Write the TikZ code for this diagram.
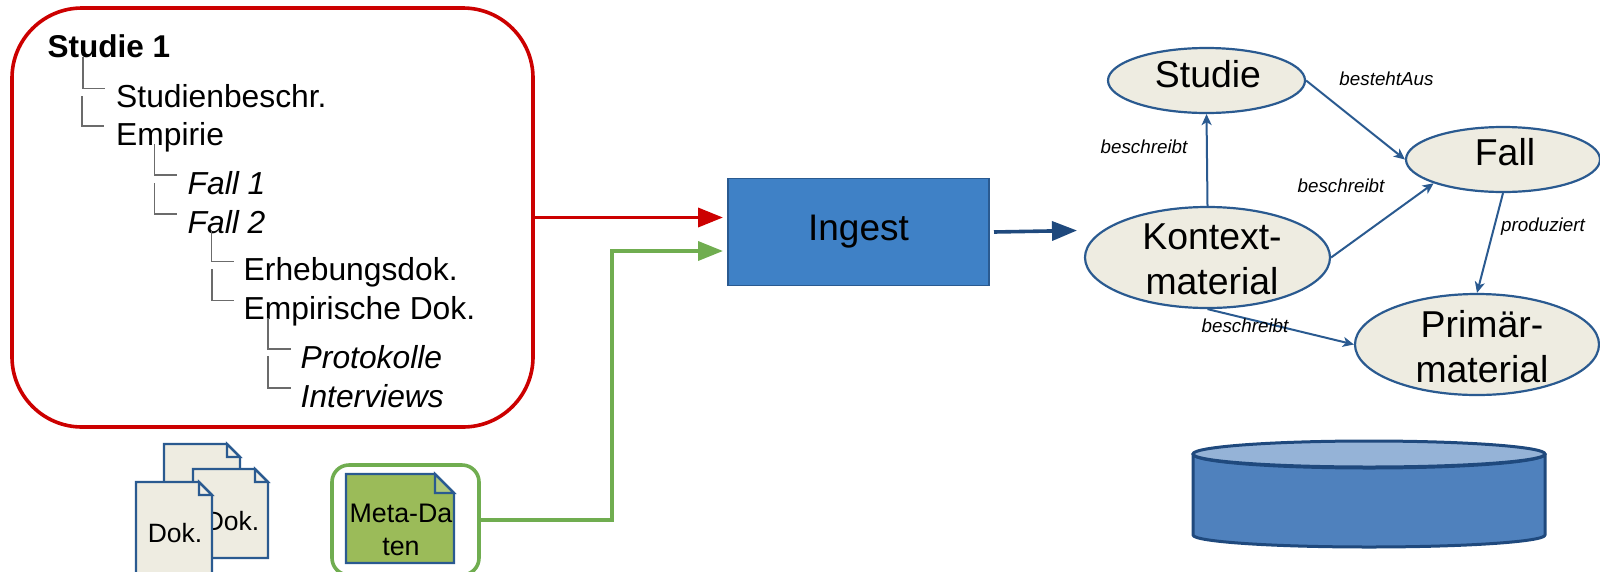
\documentclass[tikz,border=0pt]{standalone}
\usepackage{fontspec}
\setmainfont{Liberation Sans}
\usepackage{tikz}
\usetikzlibrary{arrows.meta,shapes.geometric}

\definecolor{rahmenrot}{HTML}{CC0000}
\definecolor{rahmengruen}{HTML}{70AD50}
\definecolor{blattgruen}{HTML}{9BBB59}
\definecolor{papier}{HTML}{EEECE1}
\definecolor{kante}{HTML}{2A5A90}
\definecolor{dunkelblau}{HTML}{1F497D}
\definecolor{ingestblau}{HTML}{3F81C6}
\definecolor{tonneblau}{HTML}{4F81BD}
\definecolor{tonnehell}{HTML}{95B3D7}

\tikzset{
	baumtext/.style={anchor=base west,inner sep=0pt,font=\fontsize{31.8}{36}\selectfont},
	baumkursiv/.style={baumtext,font=\fontsize{31.8}{36}\selectfont\itshape},
	baumlinie/.style={draw=black!58,line width=1.8pt},
	klasse/.style={ellipse,draw=kante,fill=papier,line width=2.2pt,inner sep=0pt},
	klassentext/.style={inner sep=0pt,align=center,font=\fontsize{37.4}{44.5}\selectfont},
	relation/.style={inner sep=0pt,font=\fontsize{18.8}{22}\selectfont\itshape},
	relpfeil/.style={draw=kante,line width=2pt,-{Stealth[length=11pt,width=10pt,inset=3pt]}},
	blatt/.style={draw=kante,line width=2.2pt,line join=miter},
	dicktip/.style={line width=3.6pt,-{Triangle[length=25pt,width=19pt]}},
}

% one sheet with a folded corner: x, y, width, height, fold, fill
\newcommand{\dokblatt}[6]{
	\draw[blatt,fill=#6] (#1,#2) -- ({#1+#3-#5},#2) -- ({#1+#3},{#2+#5}) -- ({#1+#3},{#2+#4}) -- (#1,{#2+#4}) -- cycle;
	\draw[blatt,fill=white,fill opacity=.2] ({#1+#3-#5},#2) -- ({#1+#3-#5},{#2+#5}) -- ({#1+#3},{#2+#5}) -- cycle;
}

\begin{document}
\begin{tikzpicture}
	\begin{scope}[x=1pt,y=-1pt]
		\useasboundingbox (0,0) rectangle (1600,571);
		\clip (0,0) rectangle (1600,571);

		\node[draw=rahmenrot,line width=3.6pt,rounded corners=70pt,minimum width=521pt,minimum height=419pt] (studienbox) at (272.5,217.5) {};

		\node[baumtext,font=\fontsize{31.5}{36}\selectfont\bfseries] (studie1) at (47.5,57.5) {Studie 1};
		\node[baumtext] (beschr) at (116,107.5) {Studienbeschr.};
		\node[baumtext] (empirie) at (116,145) {Empirie};
		\node[baumkursiv] (fall1) at (187.5,194) {Fall 1};
		\node[baumkursiv] (fall2) at (187.5,233) {Fall 2};
		\node[baumtext] (erhebung) at (243.5,280.5) {Erhebungsdok.};
		\node[baumtext] (empdok) at (243.5,319.5) {Empirische Dok.};
		\node[baumkursiv] (protokolle) at (300.5,368) {Protokolle};
		\node[baumkursiv] (interviews) at (300.5,407) {Interviews};

		\foreach \kind/\xpos/\ypos/\lang in {beschr/83/57/11,empirie/82/96/12,fall1/154.5/144/10.5,fall2/154.5/183/10.5,erhebung/211.5/230/10,empdok/212/269/10,protokolle/268/318/10,interviews/268/356/10}{
			\coordinate (von\kind) at (\xpos,\ypos);
			\draw[baumlinie] (von\kind) |- ([shift={(-\lang pt,19pt)}]\kind.base west);
		}

		\dokblatt{164}{444}{76}{89}{13}{papier}
		\dokblatt{193}{469}{75}{89}{13}{papier}
		\node[inner sep=0pt,font=\fontsize{26.5}{30}\selectfont] (dok2) at (232,521) {Dok.};
		\dokblatt{136}{482}{76}{92}{13}{papier}
		\node[inner sep=0pt,font=\fontsize{26.5}{30}\selectfont] (dok1) at (175,533) {Dok.};

		\node[draw=rahmengruen,line width=3.6pt,rounded corners=17pt,minimum width=147pt,minimum height=110pt] (metabox) at (405.5,520) {};
		\dokblatt{346}{474}{108}{89}{19}{blattgruen}
		\node[inner sep=0pt,align=center,font=\fontsize{26.8}{33}\selectfont] (metadaten) at (401,529.5) {Meta-Da\\ten};

		\node[draw=kante,fill=ingestblau,line width=1.8pt,minimum width=261pt,minimum height=107pt,font=\fontsize{37}{40}\selectfont] (ingest) at (858.5,232) {\raisebox{-6pt}{Ingest}};

		\coordinate (rotein) at (723,217.5);
		\coordinate (gruenknick) at (612,251);
		\coordinate (gruenein) at (723,251);
		\coordinate (blauvon) at (994,232);
		\coordinate (blaunach) at (1077,230.5);
		\draw[dicktip,draw=rahmenrot] (studienbox.east) -- (rotein);
		\draw[dicktip,draw=rahmengruen] (metabox.east) -| (gruenknick) -- (gruenein);
		\draw[dicktip,draw=dunkelblau] (blauvon) -- (blaunach);

		\node[klasse,minimum width=197pt,minimum height=65pt] (studie) at (1206.5,80.5) {};
		\node[klasse,minimum width=194pt,minimum height=65pt] (fall) at (1503,159.5) {};
		\node[klasse,minimum width=245pt,minimum height=101pt] (kontext) at (1207.5,257.5) {};
		\node[klasse,minimum width=244pt,minimum height=101pt] (primaer) at (1477,344.5) {};

		\node[klassentext] (studietext) at (1208,74) {Studie};
		\node[klassentext] (falltext) at (1505,152) {Fall};
		\node[klassentext] (kontexttext) at (1212,259.5) {Kontext-\\material};
		\node[klassentext] (primaertext) at (1482,346.5) {Primär-\\material};

		\draw[relpfeil] (kontext.north) -- (studie.south);
		\draw[relpfeil] (studie.east) -- (fall.west);
		\draw[relpfeil] (kontext.east) -- (fall.south west);
		\draw[relpfeil] (fall.south) -- (primaer.north);
		\draw[relpfeil] (kontext.south) -- (primaer.west);

		\node[relation] (bestehtaus) at (1386.5,79) {bestehtAus};
		\node[relation] (beschreibt1) at (1144,147) {beschreibt};
		\node[relation] (beschreibt2) at (1341,186) {beschreibt};
		\node[relation] (beschreibt3) at (1245,326) {beschreibt};
		\node[relation] (produziert) at (1543,227) {produziert};

		% storage barrel
		\draw[draw=dunkelblau,fill=tonneblau,line width=3pt,line join=round] (1193,454) -- (1193,535) arc[start angle=180,end angle=0,x radius=176,y radius=12] -- (1545,454) arc[start angle=0,end angle=180,x radius=176,y radius=14] -- cycle;
		\draw[draw=dunkelblau,fill=tonnehell,line width=3pt] (1369,454) ellipse[x radius=176,y radius=13];
	\end{scope}
\end{tikzpicture}
\end{document}
